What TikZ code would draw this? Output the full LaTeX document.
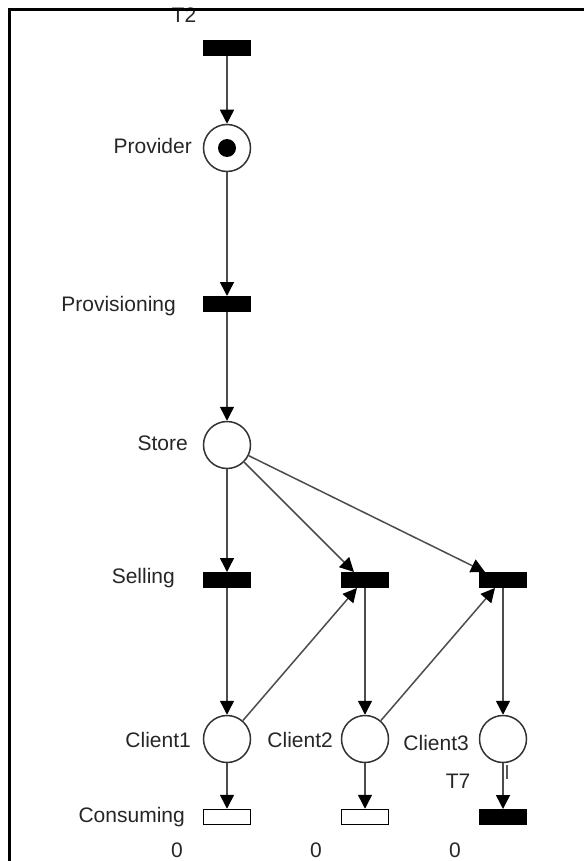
\documentclass[tikz,border=0pt]{standalone}
\usepackage{fontspec}
\setmainfont{Liberation Sans}
\usetikzlibrary{arrows.meta,calc}

\begin{document}
\begin{tikzpicture}[x=1pt,y=-1pt,
  place/.style={circle,draw=black!80,line width=1.5pt,minimum size=47pt,inner sep=0pt,fill=white},
  trans/.style={rectangle,draw=black,fill=black,minimum width=47pt,minimum height=15pt,inner sep=0pt,line width=1pt},
  htrans/.style={trans,fill=white,line width=1.5pt},
  token/.style={circle,fill=black,minimum size=18pt,inner sep=0pt},
  arc/.style={draw=black!70,line width=1.5pt,-{Triangle[length=14pt,width=14pt,color=black]}},
  lbl/.style={anchor=east,inner sep=0pt,text=black!85,font=\fontsize{21}{25}\selectfont,text height=15pt,text depth=0pt},
  num/.style={lbl,anchor=center}
]
\useasboundingbox (0,0) rectangle (584,861);

% places
\node[place] (prov)  at (227,148) {};
\node[token] (tok)   at (227,148) {};
\node[place] (store) at (227,445) {};
\node[place] (c1)    at (227,739) {};
\node[place] (c2)    at (365,739) {};
\node[place] (c3)    at (503,739) {};

% transitions
\node[trans]  (tt2)    at (227,48)  {};
\node[trans]  (provis) at (227,304) {};
\node[trans]  (sell1)  at (227,580) {};
\node[trans]  (sell2)  at (365,580) {};
\node[trans]  (sell3)  at (503,580) {};
\node[htrans] (cons1)  at (227,817) {};
\node[htrans] (cons2)  at (365,817) {};
\node[trans]  (cons3)  at (503,817) {};

% entry points of the slanted arcs on the selling bars
\coordinate (s2top) at ($(sell2.north)+(-11,0)$);
\coordinate (s3top) at ($(sell3.north)+(-18,0)$);
\coordinate (s2bot) at ($(sell2.south)+(-8,0)$);
\coordinate (s3bot) at ($(sell3.south)+(-8,0)$);

% arcs
\draw[arc] (tt2) -- (prov);
\draw[arc] (prov) -- (provis);
\draw[arc] (provis) -- (store);
\draw[arc] (store) -- (sell1);
\draw[arc] (store) -- (s2top);
\draw[arc] (store) -- (s3top);
\draw[arc] (sell1) -- (c1);
\draw[arc] (sell2) -- (c2);
\draw[arc] (sell3) -- (c3);
\draw[arc] (c1) -- (s2bot);
\draw[arc] (c2) -- (s3bot);
\draw[arc] (c1) -- (cons1);
\draw[arc] (c2) -- (cons2);
\draw[arc] (c3) -- (cons3);
\coordinate (tick) at ($(c3.south)+(4,2)$);
\draw[black!65,line width=1.2pt] (tick) -- ++(0,14);

% labels
\node[num] (lt2) at (184,15) {T2};
\node[lbl] (lprov)  at (192,146) {Provider};
\node[lbl] (lpvs)   at (176,304) {Provisioning};
\node[lbl] (lstore) at (188,443) {Store};
\node[lbl] (lsell)  at (175,576) {Selling};
\node[lbl] (lc1)    at (191,740) {Client1};
\node[lbl] (lc2)    at (333,740) {Client2};
\node[lbl] (lc3)    at (469,743) {Client3};
\node[lbl] (lcons)  at (185,815) {Consuming};
\node[num] (lt7)    at (458,781) {T7};
\node[num] (z1) at (177,850) {0};
\node[num] (z2) at (316,850) {0};
\node[num] (z3) at (455,850) {0};

% frame
\draw[line width=3pt] (9.5,861) -- (9.5,9.5) -- (584,9.5);
\end{tikzpicture}
\end{document}
